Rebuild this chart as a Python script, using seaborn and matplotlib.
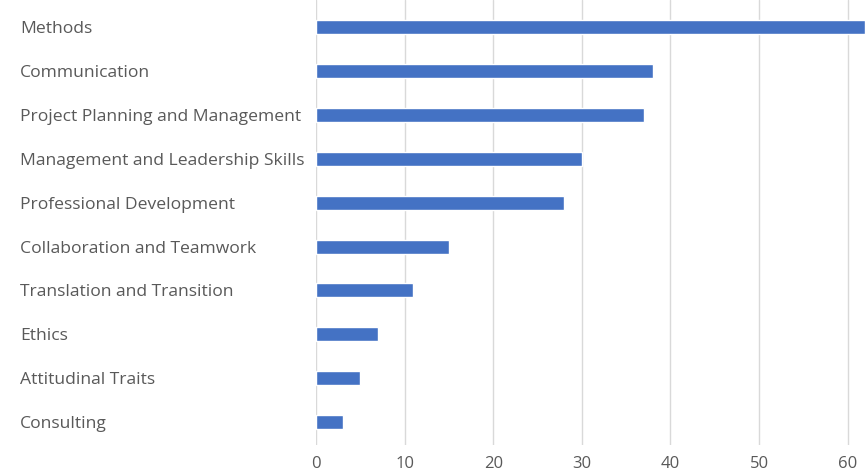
import matplotlib
matplotlib.use("Agg")
import matplotlib.pyplot as plt
import pandas as pd
import seaborn as sns

# ---- data ----
categories = [
    "Methods",
    "Communication",
    "Project Planning and Management",
    "Management and Leadership Skills",
    "Professional Development",
    "Collaboration and Teamwork",
    "Translation and Transition",
    "Ethics",
    "Attitudinal Traits",
    "Consulting",
]
counts = [62, 38, 37, 30, 28, 15, 11, 7, 5, 3]
x_ticks = [0, 10, 20, 30, 40, 50, 60]

df = pd.DataFrame({"Category": categories, "Count": counts})

sns.set_theme(style="white")
plt.rcParams["font.family"] = ["Open Sans", "DejaVu Sans"]

TEXT = "#595959"
BLUE = "#4472C4"
GRID = "#D9D9D9"

fig = plt.figure(figsize=(8.65, 4.75), dpi=100)
ax = fig.add_axes([316 / 865, 1 - 445 / 475, 1 - 316 / 865, 445 / 475])

sns.barplot(data=df, x="Count", y="Category", order=categories,
            color=BLUE, width=0.32, saturation=1, ax=ax)

ax.set_xlim(0, 61.95)
ax.set_ylim(9.52, -0.615)
ax.set_xticks(x_ticks)
ax.set_xlabel("")
ax.set_ylabel("")

ax.xaxis.grid(True, color=GRID, linewidth=1)
ax.set_axisbelow(True)
sns.despine(ax=ax, left=True, bottom=True, top=True, right=True)

ax.tick_params(axis="x", length=0, pad=8, labelsize=12, labelcolor=TEXT)
ax.tick_params(axis="y", length=0, pad=296 * 0.72, labelsize=12.6, labelcolor=TEXT)
for lab in ax.get_yticklabels():
    lab.set_horizontalalignment("left")

fig.savefig("out.png", dpi=100)
